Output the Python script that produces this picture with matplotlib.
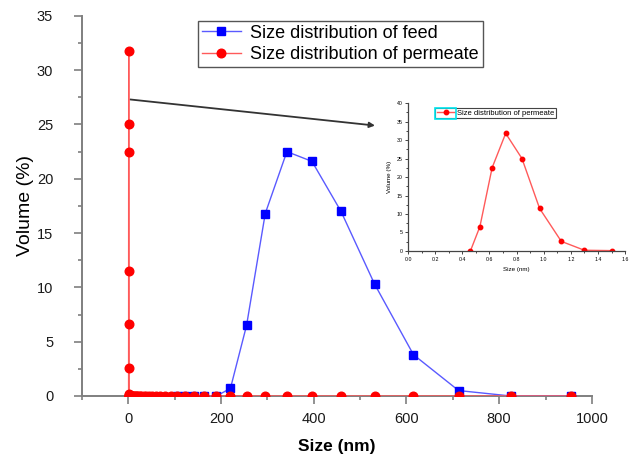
import matplotlib
matplotlib.use("Agg")
import matplotlib.pyplot as plt
from matplotlib.ticker import MultipleLocator, FormatStrFormatter
from matplotlib.patches import Rectangle

plt.rcParams['font.family'] = ['Liberation Sans', 'DejaVu Sans']

# size bins (nm) of the permeate measurement
perm_size = [0.46, 0.53, 0.62, 0.72, 0.84, 0.97, 1.13, 1.30, 1.50, 1.70, 2.0, 2.3,
             2.7, 3.1, 3.6, 4.2, 4.8, 5.6, 6.5, 7.5, 8.7, 10.1, 11.7, 13.5, 15.7,
             18.2, 21.0, 24.4, 28.2, 32.7, 37.8, 43.8, 50.7, 58.8, 68.1, 78.8,
             91.3, 105.7, 122.4, 141.8, 164.2, 190.1, 220.2, 255.0, 295.3, 342.0,
             396.1, 458.7, 531.2, 615.1, 712.4, 825.0, 955.4]
perm_vol = [0.0, 6.6, 22.5, 31.8, 25.0, 11.5, 2.6, 0.2, 0.1, 0.0, 0.0, 0.0,
            0.0, 0.0, 0.0, 0.0, 0.0, 0.0, 0.0, 0.0, 0.0, 0.0, 0.0, 0.0, 0.0,
            0.0, 0.0, 0.0, 0.0, 0.0, 0.0, 0.0, 0.0, 0.0, 0.0, 0.0,
            0.0, 0.0, 0.0, 0.0, 0.0, 0.0, 0.0, 0.0, 0.0, 0.0,
            0.0, 0.0, 0.0, 0.0, 0.0, 0.0, 0.0]

# size bins (nm) of the feed measurement
feed_size = [105.7, 122.4, 141.8, 164.2, 190.1, 220.2, 255.0, 295.3, 342.0,
             396.1, 458.7, 531.2, 615.1, 712.4, 825.0, 955.4]
feed_vol = [0.0, 0.0, 0.0, 0.0, 0.0, 0.7, 6.5, 16.8, 22.5,
            21.6, 17.0, 10.3, 3.8, 0.5, 0.0, 0.0]

GRAY = '#7f7f7f'
BLUE_LINE, BLUE_MK = '#5a5aff', '#0000ff'
RED_LINE, RED_MK = '#ff5a5a', '#ff0000'

fig = plt.figure(figsize=(6.31, 4.58), dpi=100)
ax = fig.add_axes([0.130, 0.1354, 0.808, 0.830])

ax.plot(feed_size, feed_vol, '-', color=BLUE_LINE, lw=1.0, marker='s', ms=5.8,
        mfc=BLUE_MK, mec=BLUE_MK, label='Size distribution of feed', zorder=3)
ax.plot(perm_size, perm_vol, '-', color=RED_LINE, lw=1.0, marker='o', ms=6.2,
        mfc=RED_MK, mec=RED_MK, label='Size distribution of permeate', zorder=4)

ax.set_xlim(-100, 1000)
ax.set_ylim(0, 35)
ax.xaxis.set_major_locator(MultipleLocator(200))
ax.xaxis.set_minor_locator(MultipleLocator(100))
ax.yaxis.set_major_locator(MultipleLocator(5))
ax.yaxis.set_minor_locator(MultipleLocator(2.5))
ax.set_xticks([0, 200, 400, 600, 800, 1000])

for side in ('top', 'right'):
    ax.spines[side].set_visible(False)
for side in ('left', 'bottom'):
    ax.spines[side].set_color(GRAY)
    ax.spines[side].set_linewidth(1.4)
ax.tick_params(which='both', direction='out', color=GRAY, width=1.2,
               labelsize=10.5, labelcolor='#1a1a1a')
ax.tick_params(which='major', length=5.8)
ax.tick_params(which='minor', length=3.2)
ax.tick_params(axis='y', which='major', pad=15)
ax.tick_params(axis='x', which='major', pad=6)

ax.set_xlabel('Size (nm)', fontsize=12.5, fontweight='bold', labelpad=9)
ax.set_ylabel('Volume (%)', fontsize=14, labelpad=2)

leg = ax.legend(loc='upper left', bbox_to_anchor=(198 / 631, 1 - 21 / 458),
                bbox_transform=fig.transFigure, fontsize=13, fancybox=False,
                frameon=True, edgecolor='#555555', framealpha=1,
                handlelength=2.2, handletextpad=0.5, borderpad=0.2,
                labelspacing=0.25, borderaxespad=0)
leg.get_frame().set_linewidth(1.0)

# arrow pointing to the zoomed view
ax.annotate('', xy=(532, 24.9), xytext=(4, 27.3),
            arrowprops=dict(arrowstyle='-|>', color='#333333', lw=1.3,
                            mutation_scale=8, shrinkA=0, shrinkB=0))

# zoomed view of the permeate peak
ins = fig.add_axes([0.6466, 0.452, 0.344, 0.323])
in_size = [s for s in perm_size if s <= 1.6]
in_vol = perm_vol[:len(in_size)]
ins.plot(in_size, in_vol, '-', color=RED_LINE, lw=1.0, marker='o', ms=3.2,
         mfc=RED_MK, mec=RED_MK, label='Size distribution of permeate')
ins.set_xlim(0, 1.6)
ins.set_ylim(0, 40)
ins.xaxis.set_major_locator(MultipleLocator(0.2))
ins.xaxis.set_minor_locator(MultipleLocator(0.1))
ins.yaxis.set_major_locator(MultipleLocator(5))
ins.yaxis.set_minor_locator(MultipleLocator(2.5))
ins.xaxis.set_major_formatter(FormatStrFormatter('%.1f'))
for side in ('top', 'right'):
    ins.spines[side].set_visible(False)
for side in ('left', 'bottom'):
    ins.spines[side].set_color('#444444')
    ins.spines[side].set_linewidth(0.9)
ins.tick_params(which='both', direction='out', color='#444444', width=0.7,
                labelsize=3.8, pad=1.5)
ins.tick_params(which='major', length=2.5)
ins.tick_params(which='minor', length=1.5)
ins.set_xlabel('Size (nm)', fontsize=4.5, labelpad=4)
ins.set_ylabel('Volume (%)', fontsize=4.5, labelpad=3)

ileg = ins.legend(loc='upper left', bbox_to_anchor=(435 / 631, 1 - 108 / 458),
                  bbox_transform=fig.transFigure, fontsize=5.5, fancybox=False,
                  edgecolor='#444444', framealpha=1, handlelength=2.4,
                  handletextpad=0.3, borderpad=0.2, borderaxespad=0)
ileg.get_frame().set_linewidth(0.8)
fig.patches.append(Rectangle((435 / 631, 1 - 119 / 458), 21 / 631, 11 / 458,
                             transform=fig.transFigure, fill=False,
                             edgecolor='#00e5ee', lw=1.2))

fig.savefig('out.png', dpi=100)
